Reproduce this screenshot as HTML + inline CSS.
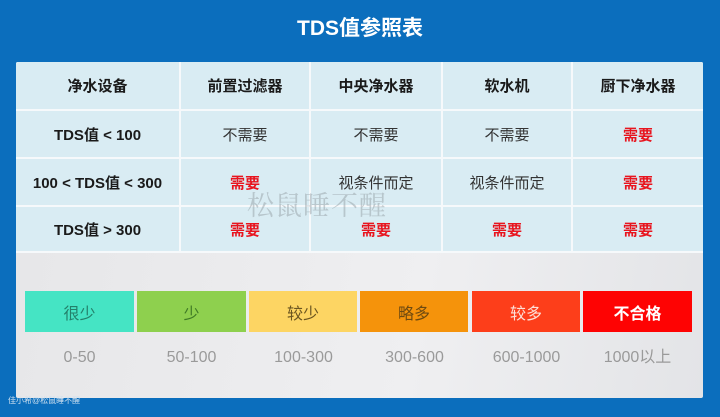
<!DOCTYPE html>
<html><head><meta charset="utf-8"><style>
*{margin:0;padding:0;box-sizing:border-box}
html,body{width:720px;height:417px;overflow:hidden}
body{background:#0b6ebd;position:relative;font-family:"Liberation Sans","Noto Sans CJK SC",sans-serif}
.title{position:absolute;left:0;top:14px;width:720px;text-align:center;color:#fff;font-weight:bold;font-size:21px;line-height:30px}
.panel{position:absolute;left:16px;top:62px;width:687px;height:336px;background:linear-gradient(100deg,#e6e6e8 0%,#efeff1 60%,#e3e4e7 100%);border-radius:2px;overflow:hidden}
.tbl{position:absolute;left:0;top:0;width:687px;height:191px;background:#f6f9fb}
.cell{position:absolute;background:#d9ecf3;display:flex;align-items:center;justify-content:center;font-size:15px;color:#333}
.h{font-weight:bold;color:#1a1a1a}
.r{color:#e8141e;font-weight:bold}
.bar{position:absolute;top:229px;height:41px;display:flex;align-items:center;justify-content:center;font-size:16px}
.rng{position:absolute;top:284px;height:24px;line-height:24px;text-align:center;font-size:16px;color:#9a9a9a;width:109px}
.wm{position:absolute;left:247px;top:190px;font-family:"Liberation Serif","Noto Serif CJK SC",serif;font-size:27px;color:rgba(150,160,165,0.5);letter-spacing:1px;line-height:32px}
.foot{position:absolute;left:8px;top:396px;font-size:8px;color:#cfe0ef;line-height:10px}
</style></head><body>
<div class="title">TDS值参照表</div>
<div class="panel">
<div class="tbl"></div>
<div class="cell h" style="left:0;top:0;width:163px;height:47px">净水设备</div>
<div class="cell h" style="left:165px;top:0;width:128px;height:47px">前置过滤器</div>
<div class="cell h" style="left:295px;top:0;width:130px;height:47px">中央净水器</div>
<div class="cell h" style="left:427px;top:0;width:128px;height:47px">软水机</div>
<div class="cell h" style="left:557px;top:0;width:130px;height:47px">厨下净水器</div>

<div class="cell h" style="left:0;top:49px;width:163px;height:46px">TDS值 &lt; 100</div>
<div class="cell" style="left:165px;top:49px;width:128px;height:46px">不需要</div>
<div class="cell" style="left:295px;top:49px;width:130px;height:46px">不需要</div>
<div class="cell" style="left:427px;top:49px;width:128px;height:46px">不需要</div>
<div class="cell r" style="left:557px;top:49px;width:130px;height:46px">需要</div>

<div class="cell h" style="left:0;top:97px;width:163px;height:46px">100 &lt; TDS值 &lt; 300</div>
<div class="cell r" style="left:165px;top:97px;width:128px;height:46px">需要</div>
<div class="cell" style="left:295px;top:97px;width:130px;height:46px">视条件而定</div>
<div class="cell" style="left:427px;top:97px;width:128px;height:46px">视条件而定</div>
<div class="cell r" style="left:557px;top:97px;width:130px;height:46px">需要</div>

<div class="cell h" style="left:0;top:145px;width:163px;height:44px">TDS值 &gt; 300</div>
<div class="cell r" style="left:165px;top:145px;width:128px;height:44px">需要</div>
<div class="cell r" style="left:295px;top:145px;width:130px;height:44px">需要</div>
<div class="cell r" style="left:427px;top:145px;width:128px;height:44px">需要</div>
<div class="cell r" style="left:557px;top:145px;width:130px;height:44px">需要</div>

<div class="bar" style="left:9px;width:109px;background:#45e4c4;color:#23806a">很少</div>
<div class="bar" style="left:121px;width:109px;background:#8ed04e;color:#3f7a25">少</div>
<div class="bar" style="left:233px;width:108px;background:#fdd563;color:#6b5520">较少</div>
<div class="bar" style="left:344px;width:108px;background:#f5930b;color:#6e4a10">略多</div>
<div class="bar" style="left:456px;width:108px;background:#fd3e1a;color:#fde0d8">较多</div>
<div class="bar" style="left:567px;width:109px;background:#fe0303;color:#fff;font-weight:bold">不合格</div>

<div class="rng" style="left:9px">0-50</div>
<div class="rng" style="left:121px">50-100</div>
<div class="rng" style="left:233px">100-300</div>
<div class="rng" style="left:344px">300-600</div>
<div class="rng" style="left:456px">600-1000</div>
<div class="rng" style="left:567px">1000以上</div>
</div>
<div class="wm">松鼠睡不醒</div>
<div class="foot">佳小希@松鼠睡不醒</div>
</body></html>
